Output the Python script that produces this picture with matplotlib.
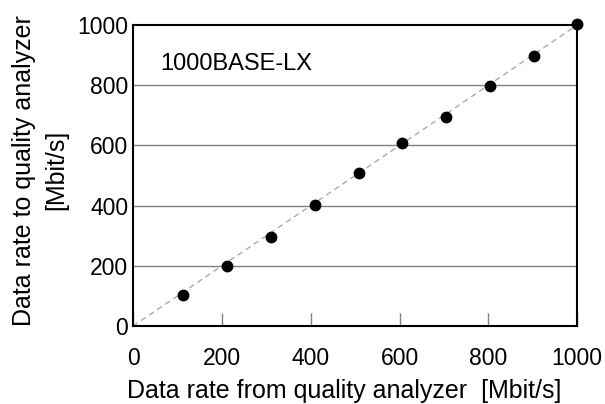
import matplotlib.pyplot as plt
import numpy as np

plt.rcParams['font.family'] = ['Liberation Sans', 'DejaVu Sans']

# measured points
rate_from = [113, 212, 311, 410, 508, 606, 705, 803, 902, 1000]
rate_to = [103, 200, 296, 403, 509, 608, 696, 799, 896, 1005]
ticks = [0, 200, 400, 600, 800, 1000]

fig = plt.figure(figsize=(6.05, 4.04), dpi=100)
ax = fig.add_axes([0.220, 0.193, 0.734, 0.745])

ax.set_xlim(0, 1000)
ax.set_ylim(0, 1000)

# grid
for t in ticks[1:-1]:
    ax.axhline(t, color='#808080', lw=1.0, zorder=1)

ax.plot([0, 1000], [0, 1000], ls=(0, (4, 3)), color='#aaaaaa', lw=1.0, zorder=2)
ax.plot(rate_from, rate_to, 'o', color='black', ms=7.5, zorder=3, clip_on=False)

ax.text(61, 850, '1000BASE-LX', fontsize=17, va='baseline', ha='left')

ax.set_xticks(ticks)
ax.set_yticks(ticks)
ax.tick_params(axis='x', direction='in', length=9.5, width=1, color='#808080',
               labelsize=16.5, pad=15)
ax.tick_params(axis='y', length=0, labelsize=16.5, pad=3.5)

for s in ax.spines.values():
    s.set_linewidth(1.5)
    s.set_color('black')

ax.set_xlabel('Data rate from quality analyzer  [Mbit/s]', fontsize=18)
ax.xaxis.set_label_coords(0.476, -0.176)
ax.set_ylabel('Data rate to quality analyzer\n[Mbit/s]', fontsize=18,
              linespacing=1.45)
ax.yaxis.set_label_coords(-0.145, 0.518)

fig.savefig('out.png', dpi=100)
